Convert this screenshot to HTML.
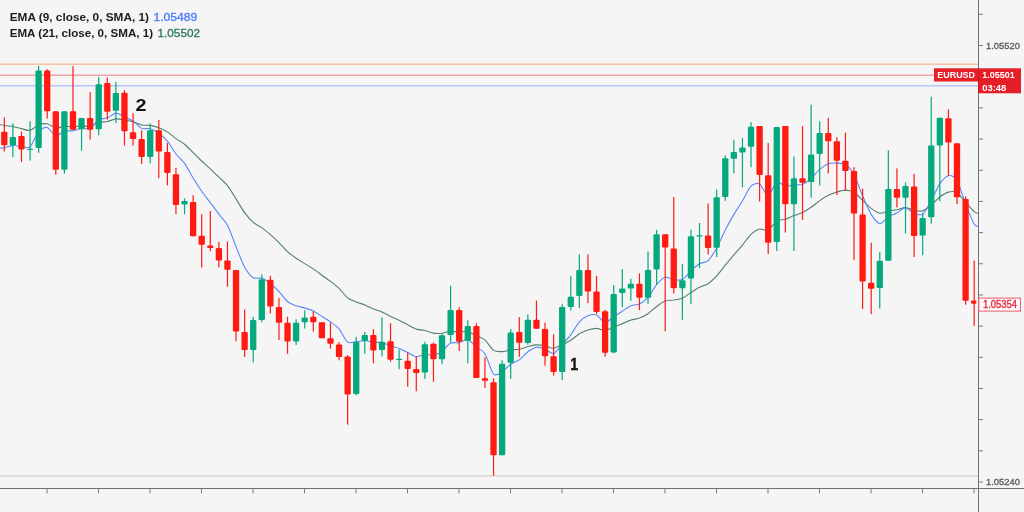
<!DOCTYPE html>
<html lang="en">
<head>
<meta charset="utf-8">
<title>EURUSD EMA chart</title>
<style>
html,body{margin:0;padding:0;background:#f5f5f5;}
body{width:1024px;height:512px;overflow:hidden;font-family:"Liberation Sans",Arial,sans-serif;}
</style>
</head>
<body>
<svg width="1024" height="512" viewBox="0 0 1024 512" style="display:block">
<rect width="1024" height="512" fill="#f5f5f5"/>
<g id="hlines" fill="none">
<line x1="0" y1="64.3" x2="978" y2="64.3" stroke="#f7c1a6" stroke-width="1.4"/>
<line x1="0" y1="75.2" x2="934" y2="75.2" stroke="#f3a4a8" stroke-width="1.6"/>
<line x1="0" y1="85.8" x2="978" y2="85.8" stroke="#b5c5f8" stroke-width="1.5"/>
<line x1="0" y1="475.9" x2="978" y2="475.9" stroke="#d2d2d2" stroke-width="1.4"/>
</g>
<path d="M-4.3 123.3 C-3.2 123.6 2.0 125.0 4.3 125.5 C6.6 125.9 10.6 126.1 12.9 126.5 C15.2 127.0 19.2 128.1 21.5 128.6 C23.8 129.1 27.8 130.9 30.0 130.5 C32.3 130.0 36.3 125.9 38.6 125.0 C40.9 124.1 44.9 123.4 47.2 123.8 C49.5 124.2 53.5 127.6 55.8 127.9 C58.1 128.3 62.1 126.6 64.4 126.4 C66.7 126.3 70.7 126.8 73.0 126.7 C75.3 126.7 79.3 126.0 81.5 125.9 C83.8 125.9 87.8 126.8 90.1 126.3 C92.4 125.8 96.4 123.1 98.7 122.5 C101.0 121.8 105.0 122.0 107.3 121.5 C109.6 121.0 113.6 119.1 115.9 118.9 C118.2 118.7 122.2 119.6 124.5 120.0 C126.8 120.4 130.8 121.1 133.0 121.8 C135.3 122.4 139.3 124.5 141.6 125.0 C143.9 125.5 147.9 125.1 150.2 125.4 C152.5 125.8 156.5 126.9 158.8 127.8 C161.1 128.7 165.1 130.5 167.4 131.9 C169.7 133.4 173.7 136.9 176.0 138.6 C178.2 140.2 182.3 142.4 184.5 144.2 C186.8 146.1 190.8 150.4 193.1 152.6 C195.4 154.8 199.4 158.8 201.7 161.0 C204.0 163.2 208.0 166.7 210.3 168.9 C212.6 171.1 216.6 175.0 218.9 177.2 C221.2 179.4 225.2 182.7 227.5 185.6 C229.7 188.5 233.8 195.3 236.0 198.9 C238.3 202.5 242.3 209.5 244.6 212.6 C246.9 215.8 250.9 220.4 253.2 222.4 C255.5 224.4 259.5 225.9 261.8 227.6 C264.1 229.2 268.1 232.7 270.4 234.7 C272.7 236.8 276.7 240.5 279.0 242.7 C281.2 245.0 285.3 249.7 287.5 251.7 C289.8 253.8 293.8 256.6 296.1 258.2 C298.4 259.7 302.4 262.1 304.7 263.6 C307.0 265.0 311.0 267.3 313.3 268.9 C315.6 270.4 319.6 273.5 321.9 275.2 C324.2 276.9 328.2 279.7 330.5 281.4 C332.7 283.2 336.7 286.1 339.0 288.3 C341.3 290.5 345.3 296.1 347.6 297.9 C349.9 299.8 353.9 301.0 356.2 301.9 C358.5 302.9 362.5 304.0 364.8 304.9 C367.1 305.9 371.1 308.1 373.4 309.1 C375.7 310.0 379.7 311.1 382.0 312.0 C384.2 313.0 388.2 315.3 390.5 316.4 C392.8 317.5 396.8 319.1 399.1 320.2 C401.4 321.3 405.4 323.5 407.7 324.7 C410.0 325.9 414.0 328.3 416.3 329.1 C418.6 329.8 422.6 329.9 424.9 330.5 C427.2 331.0 431.2 332.7 433.5 333.1 C435.7 333.5 439.7 333.5 442.0 333.3 C444.3 333.0 448.3 331.3 450.6 331.2 C452.9 331.0 456.9 332.1 459.2 332.1 C461.5 332.2 465.5 331.1 467.8 331.6 C470.1 332.1 474.1 334.7 476.4 335.8 C478.7 336.9 482.7 337.9 484.9 339.9 C487.2 341.8 491.2 348.8 493.5 350.4 C495.8 351.9 499.8 351.7 502.1 351.6 C504.4 351.5 508.4 350.2 510.7 349.9 C513.0 349.5 517.0 349.7 519.3 349.2 C521.6 348.8 525.6 347.1 527.9 346.5 C530.2 346.0 534.2 345.0 536.4 344.9 C538.7 344.8 542.7 345.5 545.0 345.9 C547.3 346.4 551.3 348.5 553.6 348.3 C555.9 348.1 559.9 345.6 562.2 344.6 C564.5 343.5 568.5 341.7 570.8 340.2 C573.1 338.8 577.1 335.2 579.4 333.8 C581.6 332.5 585.7 330.7 587.9 330.0 C590.2 329.3 594.2 328.3 596.5 328.4 C598.8 328.4 602.8 330.7 605.1 330.6 C607.4 330.4 611.4 328.2 613.7 327.2 C616.0 326.3 620.0 324.7 622.3 323.7 C624.6 322.8 628.6 320.8 630.9 320.1 C633.1 319.3 637.2 318.9 639.4 318.1 C641.7 317.2 645.7 315.2 648.0 313.7 C650.3 312.2 654.3 308.2 656.6 306.5 C658.9 304.8 662.9 302.0 665.2 301.1 C667.5 300.3 671.5 300.3 673.8 300.0 C676.1 299.6 680.1 299.1 682.4 298.2 C684.6 297.2 688.7 294.0 690.9 292.5 C693.2 291.1 697.2 288.5 699.5 287.3 C701.8 286.2 705.8 285.3 708.1 283.8 C710.4 282.2 714.4 278.4 716.7 275.9 C719.0 273.4 723.0 268.0 725.3 265.2 C727.6 262.4 731.6 257.6 733.9 254.9 C736.1 252.2 740.1 247.9 742.4 245.1 C744.7 242.4 748.7 236.5 751.0 234.4 C753.3 232.2 757.3 229.5 759.6 229.0 C761.9 228.4 765.9 231.3 768.2 230.2 C770.5 229.1 774.5 222.3 776.8 220.8 C779.1 219.4 783.1 220.0 785.4 219.3 C787.6 218.6 791.6 216.5 793.9 215.6 C796.2 214.7 800.2 213.7 802.5 212.6 C804.8 211.5 808.8 208.9 811.1 207.3 C813.4 205.7 817.4 202.2 819.7 200.6 C822.0 198.9 826.0 196.3 828.3 195.2 C830.6 194.0 834.6 192.7 836.9 192.0 C839.1 191.4 843.1 190.1 845.4 190.1 C847.7 190.2 851.7 190.9 854.0 192.2 C856.3 193.6 860.3 198.2 862.6 200.4 C864.9 202.5 868.9 206.7 871.2 208.4 C873.5 210.1 877.5 212.8 879.8 213.2 C882.1 213.5 886.1 211.4 888.3 211.0 C890.6 210.5 894.6 210.2 896.9 209.8 C899.2 209.3 903.2 207.5 905.5 207.6 C907.8 207.7 911.8 209.7 914.1 210.2 C916.4 210.6 920.4 211.6 922.7 210.9 C925.0 210.2 929.0 206.8 931.3 204.9 C933.6 203.1 937.6 198.7 939.8 197.0 C942.1 195.3 946.1 192.7 948.4 192.1 C950.7 191.5 954.7 191.2 957.0 192.5 C959.3 193.9 963.3 199.8 965.6 202.4 C967.9 204.9 972.5 210.1 974.2 211.6 C975.8 213.1 977.5 213.3 978.0 213.6" fill="none" stroke="#54806b" stroke-width="1.1" stroke-linejoin="round"/>
<path d="M-4.3 148.6 C-3.2 148.5 2.0 148.1 4.3 147.7 C6.6 147.3 10.6 145.7 12.9 145.6 C15.2 145.4 19.2 146.2 21.5 146.4 C23.8 146.5 27.8 148.8 30.0 146.8 C32.3 144.9 36.3 134.2 38.6 131.6 C40.9 129.0 44.9 126.9 47.2 127.5 C49.5 128.1 53.5 135.5 55.8 136.0 C58.1 136.5 62.1 131.7 64.4 131.0 C66.7 130.4 70.7 131.2 73.0 130.8 C75.3 130.4 79.3 128.5 81.5 128.2 C83.8 127.9 87.8 129.7 90.1 128.5 C92.4 127.4 96.4 121.1 98.7 119.7 C101.0 118.3 105.0 119.0 107.3 118.1 C109.6 117.2 113.6 113.3 115.9 113.1 C118.2 112.9 122.2 115.6 124.5 116.7 C126.8 117.8 130.8 119.6 133.0 121.2 C135.3 122.7 139.3 127.3 141.6 128.4 C143.9 129.4 147.9 128.1 150.2 128.7 C152.5 129.4 156.5 131.6 158.8 133.3 C161.1 134.9 165.1 138.5 167.4 141.2 C169.7 144.0 173.7 151.0 176.0 154.0 C178.2 156.9 182.3 160.2 184.5 163.4 C186.8 166.6 190.8 174.2 193.1 178.0 C195.4 181.7 199.4 188.0 201.7 191.3 C204.0 194.6 208.0 199.6 210.3 202.7 C212.6 205.7 216.6 211.2 218.9 214.2 C221.2 217.2 225.2 221.0 227.5 225.3 C229.7 229.6 233.8 241.0 236.0 246.6 C238.3 252.2 242.3 263.1 244.6 267.3 C246.9 271.4 250.9 276.4 253.2 277.8 C255.5 279.2 259.5 277.3 261.8 278.1 C264.1 278.9 268.1 282.0 270.4 283.8 C272.7 285.6 276.7 289.2 279.0 291.6 C281.2 293.9 285.3 299.7 287.5 301.5 C289.8 303.4 293.8 304.9 296.1 305.8 C298.4 306.6 302.4 307.4 304.7 308.1 C307.0 308.8 311.0 309.8 313.3 310.9 C315.6 312.0 319.6 314.9 321.9 316.4 C324.2 317.8 328.2 320.2 330.5 321.9 C332.7 323.5 336.7 326.2 339.0 328.9 C341.3 331.6 345.3 340.3 347.6 342.0 C349.9 343.7 353.9 342.1 356.2 341.9 C358.5 341.7 362.5 340.5 364.8 340.5 C367.1 340.6 371.1 342.3 373.4 342.5 C375.7 342.8 379.7 341.9 382.0 342.4 C384.2 342.8 388.2 345.1 390.5 345.9 C392.8 346.7 396.8 347.6 399.1 348.5 C401.4 349.3 405.4 351.5 407.7 352.6 C410.0 353.7 414.0 356.5 416.3 356.7 C418.6 356.9 422.6 354.4 424.9 354.2 C427.2 354.0 431.2 355.6 433.5 355.2 C435.7 354.8 439.7 352.9 442.0 351.2 C444.3 349.6 448.3 344.1 450.6 343.0 C452.9 341.9 456.9 343.2 459.2 342.8 C461.5 342.3 465.5 338.8 467.8 339.4 C470.1 340.0 474.1 345.2 476.4 347.1 C478.7 349.0 482.7 350.2 484.9 353.8 C487.2 357.4 491.2 371.7 493.5 374.1 C495.8 376.5 499.8 373.4 502.1 372.1 C504.4 370.7 508.4 365.8 510.7 364.2 C513.0 362.5 517.0 361.5 519.3 359.9 C521.6 358.2 525.6 353.5 527.9 351.8 C530.2 350.1 534.2 347.6 536.4 347.2 C538.7 346.8 542.7 348.2 545.0 349.0 C547.3 349.9 551.3 354.2 553.6 353.6 C555.9 353.0 559.9 346.8 562.2 344.3 C564.5 341.8 568.5 337.8 570.8 334.8 C573.1 331.8 577.1 324.4 579.4 321.9 C581.6 319.3 585.7 316.7 587.9 315.8 C590.2 314.9 594.2 314.1 596.5 315.0 C598.8 315.9 602.8 322.3 605.1 322.6 C607.4 322.8 611.4 318.4 613.7 316.8 C616.0 315.3 620.0 312.7 622.3 311.2 C624.6 309.7 628.6 306.6 630.9 305.7 C633.1 304.8 637.2 305.2 639.4 304.1 C641.7 303.0 645.7 299.9 648.0 297.3 C650.3 294.7 654.3 287.4 656.6 284.7 C658.9 282.0 662.9 278.0 665.2 277.3 C667.5 276.6 671.5 279.2 673.8 279.5 C676.1 279.8 680.1 280.7 682.4 279.6 C684.6 278.5 688.7 273.1 690.9 270.9 C693.2 268.8 697.2 265.2 699.5 263.8 C701.8 262.4 705.8 262.8 708.1 260.7 C710.4 258.5 714.4 252.0 716.7 248.0 C719.0 243.9 723.0 234.5 725.3 230.0 C727.6 225.5 731.6 218.3 733.9 214.4 C736.1 210.6 740.1 204.8 742.4 201.0 C744.7 197.3 748.7 188.5 751.0 186.2 C753.3 183.9 757.3 182.7 759.6 183.9 C761.9 185.2 765.9 196.0 768.2 195.7 C770.5 195.4 774.5 183.2 776.8 182.0 C779.1 180.7 783.1 186.0 785.4 186.4 C787.6 186.8 791.6 185.0 793.9 184.8 C796.2 184.5 800.2 185.2 802.5 184.4 C804.8 183.5 808.8 180.4 811.1 178.4 C813.4 176.4 817.4 171.3 819.7 169.3 C822.0 167.4 826.0 164.5 828.3 163.7 C830.6 162.9 834.6 163.0 836.9 163.1 C839.1 163.2 843.1 163.2 845.4 164.7 C847.7 166.2 851.7 170.3 854.0 174.4 C856.3 178.6 860.3 190.5 862.6 195.9 C864.9 201.2 868.9 210.7 871.2 214.4 C873.5 218.1 877.5 223.4 879.8 223.7 C882.1 224.0 886.1 218.2 888.3 216.8 C890.6 215.3 894.6 214.2 896.9 213.0 C899.2 211.7 903.2 207.5 905.5 207.6 C907.8 207.6 911.8 212.4 914.1 213.3 C916.4 214.1 920.4 215.9 922.7 214.2 C925.0 212.5 929.0 204.5 931.3 200.4 C933.6 196.4 937.6 187.2 939.8 183.9 C942.1 180.6 946.1 176.2 948.4 175.7 C950.7 175.1 954.7 176.2 957.0 180.0 C959.3 183.8 963.3 198.3 965.6 204.1 C967.9 210.0 972.5 221.1 974.2 224.1 C975.8 227.0 977.5 226.2 978.0 226.5" fill="none" stroke="#5b87f8" stroke-width="1.1" stroke-linejoin="round"/>
<clipPath id="cc"><rect x="0" y="0" width="976.3" height="512"/></clipPath>
<g id="candles" clip-path="url(#cc)">
<rect x="3.70" y="117.5" width="1.2" height="34.0" fill="#ff1a12"/>
<rect x="1.15" y="131.8" width="6.3" height="13.4" rx="1" fill="#ff1a12"/>
<rect x="12.28" y="123.4" width="1.2" height="33.7" fill="#06a97d"/>
<rect x="9.73" y="137.1" width="6.3" height="8.1" rx="1" fill="#06a97d"/>
<rect x="20.87" y="131.5" width="1.2" height="30.5" fill="#ff1a12"/>
<rect x="18.32" y="135.9" width="6.3" height="13.7" rx="1" fill="#ff1a12"/>
<rect x="29.45" y="121.3" width="1.2" height="39.3" fill="#06a97d"/>
<rect x="26.90" y="148.7" width="6.3" height="1.3" rx="1" fill="#06a97d"/>
<rect x="38.03" y="65.8" width="1.2" height="87.0" fill="#06a97d"/>
<rect x="35.48" y="70.6" width="6.3" height="77.4" rx="1" fill="#06a97d"/>
<rect x="46.61" y="69.3" width="1.2" height="49.2" fill="#ff1a12"/>
<rect x="44.06" y="70.6" width="6.3" height="40.7" rx="1" fill="#ff1a12"/>
<rect x="55.20" y="111.3" width="1.2" height="63.4" fill="#ff1a12"/>
<rect x="52.65" y="111.3" width="6.3" height="58.5" rx="1" fill="#ff1a12"/>
<rect x="63.78" y="111.3" width="1.2" height="62.4" fill="#06a97d"/>
<rect x="61.23" y="111.3" width="6.3" height="58.5" rx="1" fill="#06a97d"/>
<rect x="72.36" y="66.2" width="1.2" height="63.6" fill="#ff1a12"/>
<rect x="69.81" y="111.3" width="6.3" height="18.5" rx="1" fill="#ff1a12"/>
<rect x="80.95" y="117.9" width="1.2" height="32.8" fill="#06a97d"/>
<rect x="78.40" y="117.9" width="6.3" height="11.4" rx="1" fill="#06a97d"/>
<rect x="89.53" y="92.1" width="1.2" height="47.6" fill="#ff1a12"/>
<rect x="86.98" y="117.9" width="6.3" height="11.9" rx="1" fill="#ff1a12"/>
<rect x="98.11" y="77.1" width="1.2" height="58.3" fill="#06a97d"/>
<rect x="95.56" y="84.3" width="6.3" height="45.0" rx="1" fill="#06a97d"/>
<rect x="106.70" y="77.5" width="1.2" height="42.0" fill="#ff1a12"/>
<rect x="104.15" y="83.0" width="6.3" height="28.7" rx="1" fill="#ff1a12"/>
<rect x="115.28" y="82.0" width="1.2" height="41.2" fill="#06a97d"/>
<rect x="112.73" y="93.1" width="6.3" height="17.6" rx="1" fill="#06a97d"/>
<rect x="123.86" y="90.2" width="1.2" height="55.4" fill="#ff1a12"/>
<rect x="121.31" y="92.7" width="6.3" height="38.5" rx="1" fill="#ff1a12"/>
<rect x="132.45" y="113.2" width="1.2" height="32.4" fill="#ff1a12"/>
<rect x="129.90" y="132.2" width="6.3" height="6.8" rx="1" fill="#ff1a12"/>
<rect x="141.03" y="130.4" width="1.2" height="33.6" fill="#ff1a12"/>
<rect x="138.48" y="139.0" width="6.3" height="18.1" rx="1" fill="#ff1a12"/>
<rect x="149.61" y="123.4" width="1.2" height="40.0" fill="#06a97d"/>
<rect x="147.06" y="130.2" width="6.3" height="26.9" rx="1" fill="#06a97d"/>
<rect x="158.19" y="120.0" width="1.2" height="58.2" fill="#ff1a12"/>
<rect x="155.64" y="130.2" width="6.3" height="21.3" rx="1" fill="#ff1a12"/>
<rect x="166.78" y="143.0" width="1.2" height="42.4" fill="#ff1a12"/>
<rect x="164.23" y="152.1" width="6.3" height="21.0" rx="1" fill="#ff1a12"/>
<rect x="175.36" y="167.9" width="1.2" height="46.1" fill="#ff1a12"/>
<rect x="172.81" y="174.3" width="6.3" height="30.7" rx="1" fill="#ff1a12"/>
<rect x="183.94" y="198.5" width="1.2" height="15.7" fill="#06a97d"/>
<rect x="181.39" y="201.0" width="6.3" height="3.4" rx="1" fill="#06a97d"/>
<rect x="192.53" y="195.2" width="1.2" height="41.0" fill="#ff1a12"/>
<rect x="189.98" y="202.0" width="6.3" height="34.2" rx="1" fill="#ff1a12"/>
<rect x="201.11" y="214.2" width="1.2" height="53.3" fill="#ff1a12"/>
<rect x="198.56" y="235.7" width="6.3" height="9.1" rx="1" fill="#ff1a12"/>
<rect x="209.69" y="210.9" width="1.2" height="40.4" fill="#ff1a12"/>
<rect x="207.14" y="245.4" width="6.3" height="2.6" rx="1" fill="#ff1a12"/>
<rect x="218.28" y="242.1" width="1.2" height="25.2" fill="#ff1a12"/>
<rect x="215.73" y="248.0" width="6.3" height="12.4" rx="1" fill="#ff1a12"/>
<rect x="226.86" y="241.5" width="1.2" height="45.2" fill="#ff1a12"/>
<rect x="224.31" y="260.6" width="6.3" height="9.1" rx="1" fill="#ff1a12"/>
<rect x="235.44" y="269.9" width="1.2" height="71.5" fill="#ff1a12"/>
<rect x="232.89" y="269.9" width="6.3" height="61.7" rx="1" fill="#ff1a12"/>
<rect x="244.02" y="309.6" width="1.2" height="47.4" fill="#ff1a12"/>
<rect x="241.47" y="332.0" width="6.3" height="18.1" rx="1" fill="#ff1a12"/>
<rect x="252.61" y="316.8" width="1.2" height="45.4" fill="#06a97d"/>
<rect x="250.06" y="319.9" width="6.3" height="30.2" rx="1" fill="#06a97d"/>
<rect x="261.19" y="274.4" width="1.2" height="47.9" fill="#06a97d"/>
<rect x="258.64" y="279.3" width="6.3" height="40.6" rx="1" fill="#06a97d"/>
<rect x="269.77" y="275.8" width="1.2" height="37.7" fill="#ff1a12"/>
<rect x="267.22" y="279.7" width="6.3" height="26.9" rx="1" fill="#ff1a12"/>
<rect x="278.36" y="297.9" width="1.2" height="42.1" fill="#ff1a12"/>
<rect x="275.81" y="307.0" width="6.3" height="15.7" rx="1" fill="#ff1a12"/>
<rect x="286.94" y="316.8" width="1.2" height="37.0" fill="#ff1a12"/>
<rect x="284.39" y="322.7" width="6.3" height="18.7" rx="1" fill="#ff1a12"/>
<rect x="295.52" y="319.3" width="1.2" height="25.7" fill="#06a97d"/>
<rect x="292.97" y="322.7" width="6.3" height="18.7" rx="1" fill="#06a97d"/>
<rect x="304.11" y="310.5" width="1.2" height="18.0" fill="#06a97d"/>
<rect x="301.56" y="317.4" width="6.3" height="4.9" rx="1" fill="#06a97d"/>
<rect x="312.69" y="311.5" width="1.2" height="20.1" fill="#ff1a12"/>
<rect x="310.14" y="316.8" width="6.3" height="5.5" rx="1" fill="#ff1a12"/>
<rect x="321.27" y="322.3" width="1.2" height="15.9" fill="#ff1a12"/>
<rect x="318.72" y="322.3" width="6.3" height="15.9" rx="1" fill="#ff1a12"/>
<rect x="329.85" y="322.7" width="1.2" height="25.9" fill="#ff1a12"/>
<rect x="327.30" y="338.2" width="6.3" height="5.5" rx="1" fill="#ff1a12"/>
<rect x="338.44" y="342.1" width="1.2" height="18.2" fill="#ff1a12"/>
<rect x="335.89" y="344.6" width="6.3" height="12.4" rx="1" fill="#ff1a12"/>
<rect x="347.02" y="355.0" width="1.2" height="69.7" fill="#ff1a12"/>
<rect x="344.47" y="356.4" width="6.3" height="38.1" rx="1" fill="#ff1a12"/>
<rect x="355.60" y="336.8" width="1.2" height="58.6" fill="#06a97d"/>
<rect x="353.05" y="341.7" width="6.3" height="52.4" rx="1" fill="#06a97d"/>
<rect x="364.19" y="332.0" width="1.2" height="21.8" fill="#06a97d"/>
<rect x="361.64" y="334.9" width="6.3" height="6.1" rx="1" fill="#06a97d"/>
<rect x="372.77" y="329.1" width="1.2" height="34.1" fill="#ff1a12"/>
<rect x="370.22" y="334.9" width="6.3" height="15.6" rx="1" fill="#ff1a12"/>
<rect x="381.35" y="317.3" width="1.2" height="39.1" fill="#06a97d"/>
<rect x="378.80" y="341.8" width="6.3" height="8.2" rx="1" fill="#06a97d"/>
<rect x="389.94" y="323.2" width="1.2" height="38.6" fill="#ff1a12"/>
<rect x="387.39" y="341.2" width="6.3" height="18.6" rx="1" fill="#ff1a12"/>
<rect x="398.52" y="349.6" width="1.2" height="19.5" fill="#06a97d"/>
<rect x="395.97" y="358.8" width="6.3" height="1.2" rx="1" fill="#06a97d"/>
<rect x="407.10" y="352.5" width="1.2" height="34.3" fill="#ff1a12"/>
<rect x="404.55" y="360.7" width="6.3" height="8.4" rx="1" fill="#ff1a12"/>
<rect x="415.68" y="356.4" width="1.2" height="34.9" fill="#ff1a12"/>
<rect x="413.13" y="369.1" width="6.3" height="3.9" rx="1" fill="#ff1a12"/>
<rect x="424.27" y="341.8" width="1.2" height="37.1" fill="#06a97d"/>
<rect x="421.72" y="344.3" width="6.3" height="28.1" rx="1" fill="#06a97d"/>
<rect x="432.85" y="342.7" width="1.2" height="39.0" fill="#ff1a12"/>
<rect x="430.30" y="343.7" width="6.3" height="15.6" rx="1" fill="#ff1a12"/>
<rect x="441.43" y="333.4" width="1.2" height="30.8" fill="#06a97d"/>
<rect x="438.88" y="335.3" width="6.3" height="24.0" rx="1" fill="#06a97d"/>
<rect x="450.02" y="285.7" width="1.2" height="57.0" fill="#06a97d"/>
<rect x="447.47" y="310.1" width="6.3" height="24.8" rx="1" fill="#06a97d"/>
<rect x="458.60" y="307.1" width="1.2" height="43.8" fill="#ff1a12"/>
<rect x="456.05" y="310.1" width="6.3" height="31.7" rx="1" fill="#ff1a12"/>
<rect x="467.18" y="320.2" width="1.2" height="43.0" fill="#06a97d"/>
<rect x="464.63" y="326.0" width="6.3" height="14.8" rx="1" fill="#06a97d"/>
<rect x="475.76" y="323.3" width="1.2" height="54.6" fill="#ff1a12"/>
<rect x="473.22" y="326.0" width="6.3" height="51.9" rx="1" fill="#ff1a12"/>
<rect x="484.35" y="357.4" width="1.2" height="30.6" fill="#ff1a12"/>
<rect x="481.80" y="378.3" width="6.3" height="2.5" rx="1" fill="#ff1a12"/>
<rect x="492.93" y="378.3" width="1.2" height="97.4" fill="#ff1a12"/>
<rect x="490.38" y="382.3" width="6.3" height="72.9" rx="1" fill="#ff1a12"/>
<rect x="501.51" y="360.3" width="1.2" height="94.9" fill="#06a97d"/>
<rect x="498.96" y="363.8" width="6.3" height="91.4" rx="1" fill="#06a97d"/>
<rect x="510.10" y="329.1" width="1.2" height="49.8" fill="#06a97d"/>
<rect x="507.55" y="332.6" width="6.3" height="30.1" rx="1" fill="#06a97d"/>
<rect x="518.68" y="317.1" width="1.2" height="39.7" fill="#ff1a12"/>
<rect x="516.13" y="332.0" width="6.3" height="10.7" rx="1" fill="#ff1a12"/>
<rect x="527.26" y="314.4" width="1.2" height="30.3" fill="#06a97d"/>
<rect x="524.71" y="319.7" width="6.3" height="23.4" rx="1" fill="#06a97d"/>
<rect x="535.85" y="300.5" width="1.2" height="28.2" fill="#ff1a12"/>
<rect x="533.30" y="319.7" width="6.3" height="9.0" rx="1" fill="#ff1a12"/>
<rect x="544.43" y="322.5" width="1.2" height="43.2" fill="#ff1a12"/>
<rect x="541.88" y="329.0" width="6.3" height="27.3" rx="1" fill="#ff1a12"/>
<rect x="553.01" y="334.4" width="1.2" height="41.2" fill="#ff1a12"/>
<rect x="550.46" y="356.3" width="6.3" height="15.7" rx="1" fill="#ff1a12"/>
<rect x="561.59" y="304.2" width="1.2" height="75.8" fill="#06a97d"/>
<rect x="559.04" y="307.1" width="6.3" height="64.9" rx="1" fill="#06a97d"/>
<rect x="570.18" y="276.2" width="1.2" height="34.3" fill="#06a97d"/>
<rect x="567.63" y="296.8" width="6.3" height="10.3" rx="1" fill="#06a97d"/>
<rect x="578.76" y="254.4" width="1.2" height="53.7" fill="#06a97d"/>
<rect x="576.21" y="270.0" width="6.3" height="26.0" rx="1" fill="#06a97d"/>
<rect x="587.34" y="254.4" width="1.2" height="48.8" fill="#ff1a12"/>
<rect x="584.79" y="270.0" width="6.3" height="21.5" rx="1" fill="#ff1a12"/>
<rect x="595.93" y="275.9" width="1.2" height="38.1" fill="#ff1a12"/>
<rect x="593.38" y="291.5" width="6.3" height="20.5" rx="1" fill="#ff1a12"/>
<rect x="604.51" y="309.7" width="1.2" height="47.0" fill="#ff1a12"/>
<rect x="601.96" y="311.3" width="6.3" height="41.4" rx="1" fill="#ff1a12"/>
<rect x="613.09" y="285.1" width="1.2" height="68.1" fill="#06a97d"/>
<rect x="610.54" y="294.0" width="6.3" height="58.4" rx="1" fill="#06a97d"/>
<rect x="621.68" y="269.1" width="1.2" height="38.0" fill="#06a97d"/>
<rect x="619.13" y="288.6" width="6.3" height="4.3" rx="1" fill="#06a97d"/>
<rect x="630.26" y="278.8" width="1.2" height="21.9" fill="#06a97d"/>
<rect x="627.71" y="283.7" width="6.3" height="4.9" rx="1" fill="#06a97d"/>
<rect x="638.84" y="273.4" width="1.2" height="36.7" fill="#ff1a12"/>
<rect x="636.29" y="283.7" width="6.3" height="14.1" rx="1" fill="#ff1a12"/>
<rect x="647.42" y="251.5" width="1.2" height="52.3" fill="#06a97d"/>
<rect x="644.88" y="270.0" width="6.3" height="27.8" rx="1" fill="#06a97d"/>
<rect x="656.01" y="229.8" width="1.2" height="54.9" fill="#06a97d"/>
<rect x="653.46" y="234.3" width="6.3" height="35.3" rx="1" fill="#06a97d"/>
<rect x="664.59" y="234.3" width="1.2" height="97.1" fill="#ff1a12"/>
<rect x="662.04" y="234.3" width="6.3" height="13.3" rx="1" fill="#ff1a12"/>
<rect x="673.17" y="197.0" width="1.2" height="96.5" fill="#ff1a12"/>
<rect x="670.62" y="248.6" width="6.3" height="39.6" rx="1" fill="#ff1a12"/>
<rect x="681.76" y="264.2" width="1.2" height="55.6" fill="#06a97d"/>
<rect x="679.21" y="280.2" width="6.3" height="8.0" rx="1" fill="#06a97d"/>
<rect x="690.34" y="229.8" width="1.2" height="74.4" fill="#06a97d"/>
<rect x="687.79" y="236.3" width="6.3" height="42.1" rx="1" fill="#06a97d"/>
<rect x="698.92" y="223.0" width="1.2" height="45.1" fill="#06a97d"/>
<rect x="696.37" y="235.3" width="6.3" height="1.2" rx="1" fill="#06a97d"/>
<rect x="707.51" y="203.5" width="1.2" height="50.9" fill="#ff1a12"/>
<rect x="704.96" y="235.6" width="6.3" height="12.4" rx="1" fill="#ff1a12"/>
<rect x="716.09" y="189.5" width="1.2" height="67.5" fill="#06a97d"/>
<rect x="713.54" y="197.2" width="6.3" height="50.6" rx="1" fill="#06a97d"/>
<rect x="724.67" y="155.5" width="1.2" height="45.4" fill="#06a97d"/>
<rect x="722.12" y="158.2" width="6.3" height="38.9" rx="1" fill="#06a97d"/>
<rect x="733.25" y="139.8" width="1.2" height="33.4" fill="#06a97d"/>
<rect x="730.71" y="152.1" width="6.3" height="6.6" rx="1" fill="#06a97d"/>
<rect x="741.84" y="137.9" width="1.2" height="49.4" fill="#06a97d"/>
<rect x="739.29" y="147.5" width="6.3" height="5.1" rx="1" fill="#06a97d"/>
<rect x="750.42" y="122.2" width="1.2" height="45.0" fill="#06a97d"/>
<rect x="747.87" y="126.7" width="6.3" height="20.0" rx="1" fill="#06a97d"/>
<rect x="759.00" y="126.1" width="1.2" height="75.4" fill="#ff1a12"/>
<rect x="756.45" y="126.1" width="6.3" height="48.9" rx="1" fill="#ff1a12"/>
<rect x="767.59" y="143.1" width="1.2" height="110.9" fill="#ff1a12"/>
<rect x="765.04" y="175.3" width="6.3" height="67.4" rx="1" fill="#ff1a12"/>
<rect x="776.17" y="127.1" width="1.2" height="123.9" fill="#06a97d"/>
<rect x="773.62" y="127.1" width="6.3" height="114.8" rx="1" fill="#06a97d"/>
<rect x="784.75" y="126.1" width="1.2" height="106.4" fill="#ff1a12"/>
<rect x="782.20" y="126.1" width="6.3" height="78.1" rx="1" fill="#ff1a12"/>
<rect x="793.34" y="156.4" width="1.2" height="94.6" fill="#06a97d"/>
<rect x="790.79" y="178.2" width="6.3" height="26.0" rx="1" fill="#06a97d"/>
<rect x="801.92" y="126.1" width="1.2" height="93.7" fill="#ff1a12"/>
<rect x="799.37" y="178.2" width="6.3" height="4.5" rx="1" fill="#ff1a12"/>
<rect x="810.50" y="104.6" width="1.2" height="93.1" fill="#06a97d"/>
<rect x="807.95" y="154.5" width="6.3" height="27.6" rx="1" fill="#06a97d"/>
<rect x="819.08" y="121.3" width="1.2" height="64.3" fill="#06a97d"/>
<rect x="816.53" y="133.0" width="6.3" height="21.1" rx="1" fill="#06a97d"/>
<rect x="827.67" y="117.7" width="1.2" height="55.8" fill="#ff1a12"/>
<rect x="825.12" y="133.0" width="6.3" height="8.2" rx="1" fill="#ff1a12"/>
<rect x="836.25" y="137.3" width="1.2" height="57.7" fill="#ff1a12"/>
<rect x="833.70" y="141.2" width="6.3" height="19.5" rx="1" fill="#ff1a12"/>
<rect x="844.83" y="132.6" width="1.2" height="57.9" fill="#ff1a12"/>
<rect x="842.28" y="160.7" width="6.3" height="10.3" rx="1" fill="#ff1a12"/>
<rect x="853.42" y="167.1" width="1.2" height="92.7" fill="#ff1a12"/>
<rect x="850.87" y="171.0" width="6.3" height="42.4" rx="1" fill="#ff1a12"/>
<rect x="862.00" y="188.6" width="1.2" height="120.4" fill="#ff1a12"/>
<rect x="859.45" y="214.5" width="6.3" height="67.1" rx="1" fill="#ff1a12"/>
<rect x="870.58" y="242.7" width="1.2" height="71.4" fill="#ff1a12"/>
<rect x="868.03" y="282.8" width="6.3" height="5.9" rx="1" fill="#ff1a12"/>
<rect x="879.17" y="252.0" width="1.2" height="56.6" fill="#06a97d"/>
<rect x="876.62" y="260.8" width="6.3" height="27.3" rx="1" fill="#06a97d"/>
<rect x="887.75" y="150.4" width="1.2" height="110.4" fill="#06a97d"/>
<rect x="885.20" y="189.1" width="6.3" height="71.7" rx="1" fill="#06a97d"/>
<rect x="896.33" y="168.4" width="1.2" height="39.1" fill="#ff1a12"/>
<rect x="893.78" y="189.1" width="6.3" height="8.6" rx="1" fill="#ff1a12"/>
<rect x="904.91" y="182.5" width="1.2" height="51.0" fill="#06a97d"/>
<rect x="902.37" y="186.0" width="6.3" height="11.7" rx="1" fill="#06a97d"/>
<rect x="913.50" y="173.9" width="1.2" height="83.1" fill="#ff1a12"/>
<rect x="910.95" y="186.6" width="6.3" height="49.4" rx="1" fill="#ff1a12"/>
<rect x="922.08" y="213.0" width="1.2" height="42.2" fill="#06a97d"/>
<rect x="919.53" y="217.9" width="6.3" height="17.5" rx="1" fill="#06a97d"/>
<rect x="930.66" y="96.7" width="1.2" height="127.0" fill="#06a97d"/>
<rect x="928.11" y="145.5" width="6.3" height="71.8" rx="1" fill="#06a97d"/>
<rect x="939.25" y="117.8" width="1.2" height="83.5" fill="#06a97d"/>
<rect x="936.70" y="117.8" width="6.3" height="27.7" rx="1" fill="#06a97d"/>
<rect x="947.83" y="109.4" width="1.2" height="66.4" fill="#ff1a12"/>
<rect x="945.28" y="118.2" width="6.3" height="24.4" rx="1" fill="#ff1a12"/>
<rect x="956.41" y="143.2" width="1.2" height="61.0" fill="#ff1a12"/>
<rect x="953.86" y="143.2" width="6.3" height="54.1" rx="1" fill="#ff1a12"/>
<rect x="965.00" y="196.4" width="1.2" height="108.3" fill="#ff1a12"/>
<rect x="962.45" y="198.9" width="6.3" height="101.9" rx="1" fill="#ff1a12"/>
<rect x="973.58" y="260.7" width="1.2" height="65.1" fill="#ff1a12"/>
<rect x="971.03" y="300.4" width="6.3" height="3.3" rx="1" fill="#ff1a12"/>
</g>
<g id="axes" shape-rendering="crispEdges" stroke="#6e7177" stroke-width="1">
<line x1="978.5" y1="0" x2="978.5" y2="512"/>
<line x1="0" y1="488.5" x2="1024" y2="488.5"/>
</g>
<g id="ticks" fill="#777a80">
<rect x="46.50" y="489" width="1" height="4.4"/>
<rect x="98.00" y="489" width="1" height="4.4"/>
<rect x="149.50" y="489" width="1" height="4.4"/>
<rect x="201.00" y="489" width="1" height="4.4"/>
<rect x="252.50" y="489" width="1" height="4.4"/>
<rect x="304.00" y="489" width="1" height="4.4"/>
<rect x="355.50" y="489" width="1" height="4.4"/>
<rect x="407.00" y="489" width="1" height="4.4"/>
<rect x="458.50" y="489" width="1" height="4.4"/>
<rect x="510.00" y="489" width="1" height="4.4"/>
<rect x="561.50" y="489" width="1" height="4.4"/>
<rect x="613.00" y="489" width="1" height="4.4"/>
<rect x="664.50" y="489" width="1" height="4.4"/>
<rect x="716.00" y="489" width="1" height="4.4"/>
<rect x="767.50" y="489" width="1" height="4.4"/>
<rect x="819.00" y="489" width="1" height="4.4"/>
<rect x="870.50" y="489" width="1" height="4.4"/>
<rect x="922.00" y="489" width="1" height="4.4"/>
<rect x="973.50" y="489" width="1" height="4.4"/>
<rect x="979" y="13.82" width="4" height="1"/>
<rect x="979" y="45.00" width="4" height="1"/>
<rect x="979" y="76.18" width="4" height="1"/>
<rect x="979" y="107.36" width="4" height="1"/>
<rect x="979" y="138.54" width="4" height="1"/>
<rect x="979" y="169.72" width="4" height="1"/>
<rect x="979" y="200.90" width="4" height="1"/>
<rect x="979" y="232.08" width="4" height="1"/>
<rect x="979" y="263.26" width="4" height="1"/>
<rect x="979" y="294.44" width="4" height="1"/>
<rect x="979" y="325.62" width="4" height="1"/>
<rect x="979" y="356.80" width="4" height="1"/>
<rect x="979" y="387.98" width="4" height="1"/>
<rect x="979" y="419.16" width="4" height="1"/>
<rect x="979" y="450.34" width="4" height="1"/>
<rect x="979" y="481.52" width="4" height="1"/>
</g>
<text x="986" y="48.8" font-family="Liberation Sans, Arial, sans-serif" font-size="9.4" fill="#55585e" stroke="#55585e" stroke-width="0.3" textLength="34" lengthAdjust="spacingAndGlyphs">1.05520</text>
<text x="986" y="484.5" font-family="Liberation Sans, Arial, sans-serif" font-size="9.4" fill="#55585e" stroke="#55585e" stroke-width="0.3" textLength="34" lengthAdjust="spacingAndGlyphs">1.05240</text>
<rect x="934" y="68.3" width="44.5" height="13.2" fill="#e61e28"/>
<rect x="978" y="68.3" width="43" height="25" fill="#e61e28"/>
<text x="937.3" y="78.3" font-family="Liberation Sans, Arial, sans-serif" font-size="9.2" font-weight="bold" fill="#fff" textLength="37.7" lengthAdjust="spacingAndGlyphs">EURUSD</text>
<text x="982.3" y="78.3" font-family="Liberation Sans, Arial, sans-serif" font-size="9.2" font-weight="bold" fill="#fff" textLength="32.5" lengthAdjust="spacingAndGlyphs">1.05501</text>
<text x="982.3" y="90.6" font-family="Liberation Sans, Arial, sans-serif" font-size="9.2" font-weight="bold" fill="#fff" textLength="24" lengthAdjust="spacingAndGlyphs">03:48</text>
<rect x="978" y="68.3" width="1" height="25" fill="#b3151d" opacity="0.55"/>
<rect x="978.8" y="298.1" width="41.6" height="13" fill="#fbfbfb" stroke="#ea5a68" stroke-width="1"/>
<text x="983" y="308.3" font-family="Liberation Sans, Arial, sans-serif" font-size="10" fill="#ea3547" stroke="#ea3547" stroke-width="0.45" textLength="34" lengthAdjust="spacingAndGlyphs">1.05354</text>
<text x="9.7" y="20.6" font-family="Liberation Sans, Arial, sans-serif" font-size="11.4" font-weight="bold" fill="#1c1c1c" textLength="139.3" lengthAdjust="spacingAndGlyphs">EMA (9, close, 0, SMA, 1)</text>
<text x="153.5" y="20.6" font-family="Liberation Sans, Arial, sans-serif" font-size="11.4" fill="#4d7dfc" stroke="#4d7dfc" stroke-width="0.35" textLength="43.8" lengthAdjust="spacingAndGlyphs">1.05489</text>
<text x="9.7" y="36.9" font-family="Liberation Sans, Arial, sans-serif" font-size="11.4" font-weight="bold" fill="#1c1c1c" textLength="143.4" lengthAdjust="spacingAndGlyphs">EMA (21, close, 0, SMA, 1)</text>
<text x="157.5" y="36.9" font-family="Liberation Sans, Arial, sans-serif" font-size="11.4" fill="#2f7a5c" stroke="#2f7a5c" stroke-width="0.35" textLength="42.5" lengthAdjust="spacingAndGlyphs">1.05502</text>
<text x="135.6" y="111.3" font-family="Liberation Sans, Arial, sans-serif" font-size="15.8" font-weight="bold" fill="#111" textLength="11" lengthAdjust="spacingAndGlyphs">2</text>
<text x="570.3" y="370.4" font-family="Liberation Sans, Arial, sans-serif" font-size="16.4" font-weight="bold" fill="#111" stroke="#111" stroke-width="0.4" textLength="8" lengthAdjust="spacingAndGlyphs">1</text>
</svg>
</body>
</html>
